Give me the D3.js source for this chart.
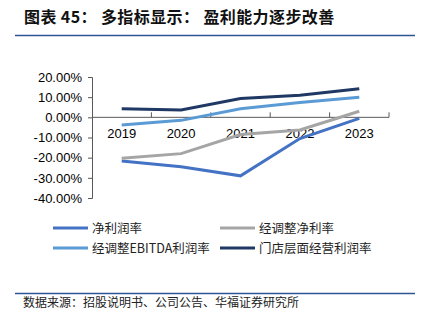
<!DOCTYPE html>
<html>
<head>
<meta charset="utf-8">
<script src="https://cdn.jsdelivr.net/npm/d3@7"></script>
<style>
  body { margin: 0; background: #fff; }
  svg { display: block; }
</style>
</head>
<body>
<svg id="chart" width="422" height="325"></svg>
<script>
// data (percent)
var years = ["2019", "2020", "2021", "2022", "2023"];
var netMargin = [-21.6, -24.5, -29.0, -10.5, -0.5];
var adjNetMargin = [-20.3, -18.0, -8.5, -6.3, 3.0];
var adjEbitdaMargin = [-3.8, -1.5, 4.3, 7.3, 10.0];
var storeMargin = [4.3, 3.6, 9.3, 10.9, 14.2];
var yTicks = [20, 10, 0, -10, -20, -30, -40];

var seriesNames = ["净利润率", "经调整净利率", "经调整EBITDA利润率", "门店层面经营利润率"];
var seriesColors = ["#4472C4", "#A5A5A5", "#5B9BD5", "#203864"];
var seriesValues = [netMargin, adjNetMargin, adjEbitdaMargin, storeMargin];

var svg = d3.select("#chart");
var cjk = "'Noto Sans CJK SC', sans-serif";

// title + rules
svg.append("text")
  .attr("x", 24).attr("y", 23)
  .attr("font-family", cjk).attr("font-weight", "bold")
  .attr("font-size", 16).attr("letter-spacing", 0.4).attr("fill", "#111")
  .text("图表 45： 多指标显示： 盈利能力逐步改善");
svg.append("line").attr("x1", 15).attr("x2", 415).attr("y1", 35.5).attr("y2", 35.5)
  .attr("stroke", "#2F5597").attr("stroke-width", 1.5);
svg.append("line").attr("x1", 15).attr("x2", 415).attr("y1", 293.5).attr("y2", 293.5)
  .attr("stroke", "#2F5597").attr("stroke-width", 1.5);
svg.append("text")
  .attr("x", 23).attr("y", 307)
  .attr("font-family", cjk).attr("font-size", 12).attr("fill", "#222")
  .text("数据来源：招股说明书、公司公告、华福证券研究所");

// scales
var x = d3.scaleBand().domain(years).range([92, 389]);
var y = d3.scaleLinear().domain([-40, 20]).range([198, 77]);

// y axis
var yAxis = svg.append("g").attr("transform", "translate(92,0)")
  .call(d3.axisLeft(y).tickValues(yTicks).tickSize(4).tickPadding(6)
    .tickFormat(function(d) { return d.toFixed(2) + "%"; }));
yAxis.selectAll("text").attr("font-family", "'Liberation Sans', Arial, sans-serif")
  .attr("font-size", 13).attr("fill", "#000");
yAxis.selectAll("line, path").attr("stroke", "#595959");

// x axis at zero, ticks pointing up between categories
var xAxisG = svg.append("g").attr("transform", "translate(0," + y(0) + ")");
xAxisG.append("line").attr("x1", 92).attr("x2", 389).attr("stroke", "#595959");
xAxisG.selectAll("line.tick").data(years).enter().append("line")
  .attr("x1", function(d) { return x(d) + x.bandwidth(); })
  .attr("x2", function(d) { return x(d) + x.bandwidth(); })
  .attr("y1", 0).attr("y2", -5).attr("stroke", "#595959");
xAxisG.selectAll("text").data(years).enter().append("text")
  .attr("x", function(d) { return x(d) + x.bandwidth() / 2; })
  .attr("y", 21)
  .attr("text-anchor", "middle")
  .attr("font-family", "'Liberation Sans', Arial, sans-serif")
  .attr("font-size", 13).attr("fill", "#000")
  .text(function(d) { return d; });

// lines
var line = d3.line()
  .x(function(d, i) { return x(years[i]) + x.bandwidth() / 2; })
  .y(function(d) { return y(d); });

seriesValues.forEach(function(vals, k) {
  svg.append("path").datum(vals)
    .attr("d", line)
    .attr("fill", "none")
    .attr("stroke", seriesColors[k])
    .attr("stroke-width", 3);
});

// legend
var legendPos = [[53, 228], [220, 228], [53, 248], [220, 248]];
seriesNames.forEach(function(name, k) {
  var p = legendPos[k];
  svg.append("line").attr("x1", p[0]).attr("x2", p[0] + 35)
    .attr("y1", p[1]).attr("y2", p[1])
    .attr("stroke", seriesColors[k]).attr("stroke-width", 3);
  svg.append("text").attr("x", p[0] + 39).attr("y", p[1] + 4.5)
    .attr("font-family", cjk).attr("font-size", 12.5).attr("fill", "#222")
    .text(name);
});
</script>
</body>
</html>
